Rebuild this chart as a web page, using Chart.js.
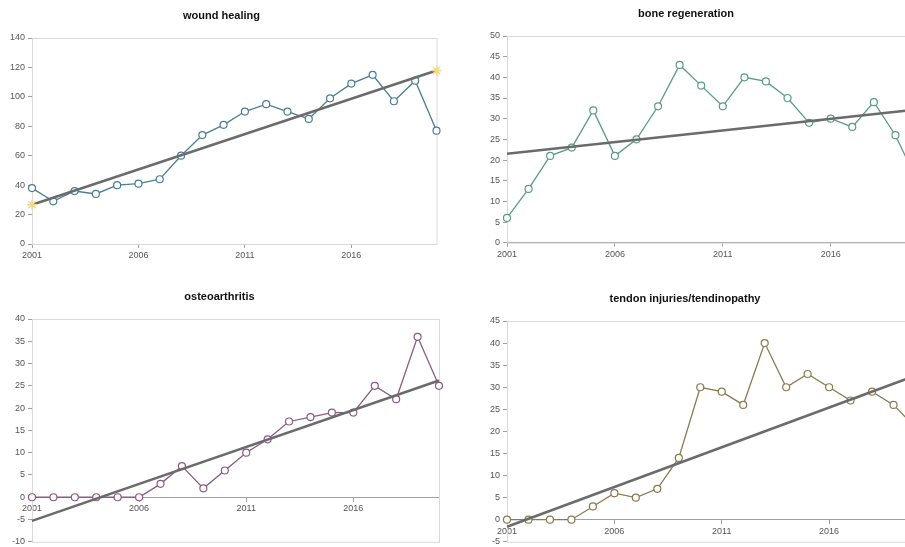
<!DOCTYPE html>
<html>
<head>
<meta charset="utf-8">
<script src="https://cdn.jsdelivr.net/npm/chart.js@4.4.1/dist/chart.umd.min.js"></script>
<style>
    html, body { margin: 0; padding: 0; background: #fff; width: 905px; height: 547px; overflow: hidden; position: relative; }
    canvas { position: absolute; }
</style>
</head>
<body>
<canvas id="woundChart" style="left:0px;top:0px" width="443" height="270"></canvas>
<canvas id="boneChart" style="left:455px;top:0px" width="486" height="270"></canvas>
<canvas id="osteoChart" style="left:0px;top:280px" width="446" height="267"></canvas>
<canvas id="tendonChart" style="left:455px;top:280px" width="488" height="267"></canvas>
<script>
    'use strict';

    // categories
    var years = ['2001', '2002', '2003', '2004', '2005', '2006', '2007', '2008', '2009', '2010',
                 '2011', '2012', '2013', '2014', '2015', '2016', '2017', '2018', '2019', '2020'];
    var trendYears = ['2001', '2020'];

    // series values
    var woundHealing = [38, 29, 36, 34, 40, 41, 44, 60, 74, 81, 90, 95, 90, 85, 99, 109, 115, 97, 111, 77];
    var boneRegeneration = [6, 13, 21, 23, 32, 21, 25, 33, 43, 38, 33, 40, 39, 35, 29, 30, 28, 34, 26, 15];
    var osteoarthritis = [0, 0, 0, 0, 0, 0, 3, 7, 2, 6, 10, 13, 17, 18, 19, 19, 25, 22, 36, 25];
    var tendonInjuries = [0, 0, 0, 0, 3, 6, 5, 7, 14, 30, 29, 26, 40, 30, 33, 30, 27, 29, 26, 21];

    // trend line end values at 2001 and 2020
    var woundTrend = [26.7, 117.9];
    var boneTrend = [21.5, 32.2];
    var osteoTrend = [-5.3, 26.2];
    var tendonTrend = [-1.6, 32.6];

    // y axis [min, max, step]
    var woundTicks = [0, 140, 20];
    var boneTicks = [0, 50, 5];
    var osteoTicks = [-10, 40, 5];
    var tendonTicks = [-5, 45, 5];

    var FONT = '"Liberation Sans", Arial, sans-serif';

    var framePlugin = {
        id: 'frame',
        beforeDatasetsDraw: function (chart) {
            var a = chart.chartArea;
            var ctx = chart.ctx;
            ctx.save();
            ctx.strokeStyle = '#d9d9d9';
            ctx.lineWidth = 1;
            ctx.strokeRect(Math.round(a.left) + 0.5, Math.round(a.top) + 0.5, a.right - a.left, a.bottom - a.top);
            ctx.restore();
        }
    };

    function makeChart(id, cfg) {
        var trendPoints = trendYears.map(function (y, i) { return { x: y, y: cfg.trend[i] }; });
        var ctx = document.getElementById(id).getContext('2d');
        return new Chart(ctx, {
            type: 'line',
            data: {
                labels: years,
                datasets: [{
                    label: 'trend',
                    data: trendPoints,
                    borderColor: '#6b6b6b',
                    borderWidth: 2.5,
                    pointRadius: cfg.star ? 5 : 0,
                    pointStyle: 'star',
                    pointBorderColor: '#f3d98c',
                    pointBorderWidth: 1.5,
                    clip: false
                }, {
                    label: cfg.title,
                    data: cfg.values,
                    borderColor: cfg.color,
                    borderWidth: 1.3,
                    pointRadius: 3.5,
                    pointBackgroundColor: '#ffffff',
                    pointBorderColor: cfg.color,
                    pointBorderWidth: 1.2,
                    tension: 0,
                    clip: false
                }]
            },
            options: {
                responsive: false,
                animation: false,
                layout: { padding: { left: 0, right: cfg.right, top: 0, bottom: cfg.bottom } },
                plugins: {
                    legend: { display: false },
                    tooltip: { enabled: false },
                    title: {
                        display: true,
                        text: cfg.title,
                        color: '#111',
                        font: { family: FONT, size: 11, weight: 'bold' },
                        padding: { top: cfg.titleTop, bottom: cfg.titleBottom }
                    }
                },
                scales: {
                    x: {
                        type: 'category',
                        position: cfg.zeroAxis ? { y: 0 } : 'bottom',
                        offset: false,
                        grid: { display: true, drawOnChartArea: false, drawTicks: true, tickLength: 4, color: '#a0a0a0' },
                        border: { display: true, color: '#a0a0a0', width: 1 },
                        ticks: {
                            autoSkip: false,
                            maxRotation: 0,
                            padding: 2,
                            color: '#555',
                            font: { family: FONT, size: 9 },
                            callback: function (val, index) {
                                return index % 5 === 0 ? this.getLabelForValue(val) : null;
                            }
                        },
                        afterFit: function (scale) {
                            scale.paddingLeft = 0;
                            scale.paddingRight = 0;
                            if (!cfg.zeroAxis) { scale.height = cfg.xHeight; }
                        }
                    },
                    y: {
                        min: cfg.ticks[0],
                        max: cfg.ticks[1],
                        grid: { display: true, drawOnChartArea: false, drawTicks: true, tickLength: 4, color: '#a0a0a0' },
                        border: { display: true, color: '#a0a0a0', width: 1 },
                        ticks: {
                            stepSize: cfg.ticks[2],
                            padding: 3,
                            color: '#555',
                            font: { family: FONT, size: 9 }
                        },
                        afterFit: function (scale) {
                            scale.width = cfg.yWidth;
                            scale.paddingTop = 0;
                            scale.paddingBottom = 0;
                        }
                    }
                }
            },
            plugins: [framePlugin]
        });
    }

    makeChart('woundChart', {
        title: 'wound healing', values: woundHealing, trend: woundTrend, ticks: woundTicks,
        color: '#4b7d97', star: true, zeroAxis: false,
        yWidth: 32, right: 0, bottom: 0, xHeight: 26, titleTop: 9.4, titleBottom: 15.4
    });
    makeChart('boneChart', {
        title: 'bone regeneration', values: boneRegeneration, trend: boneTrend, ticks: boneTicks,
        color: '#5a9c84', star: false, zeroAxis: false,
        yWidth: 52, right: 24, bottom: 0, xHeight: 27.3, titleTop: 7.4, titleBottom: 15.4
    });
    makeChart('osteoChart', {
        title: 'osteoarthritis', values: osteoarthritis, trend: osteoTrend, ticks: osteoTicks,
        color: '#8b5a82', star: false, zeroAxis: true,
        yWidth: 32, right: 7, bottom: 3.7, xHeight: 0, titleTop: 10.4, titleBottom: 15.4
    });
    makeChart('tendonChart', {
        title: 'tendon injuries/tendinopathy', values: tendonInjuries, trend: tendonTrend, ticks: tendonTicks,
        color: '#8a7a52', star: false, zeroAxis: true,
        yWidth: 52, right: 28, bottom: 2, xHeight: 0, titleTop: 12.4, titleBottom: 15.4
    });
</script>
</body>
</html>
